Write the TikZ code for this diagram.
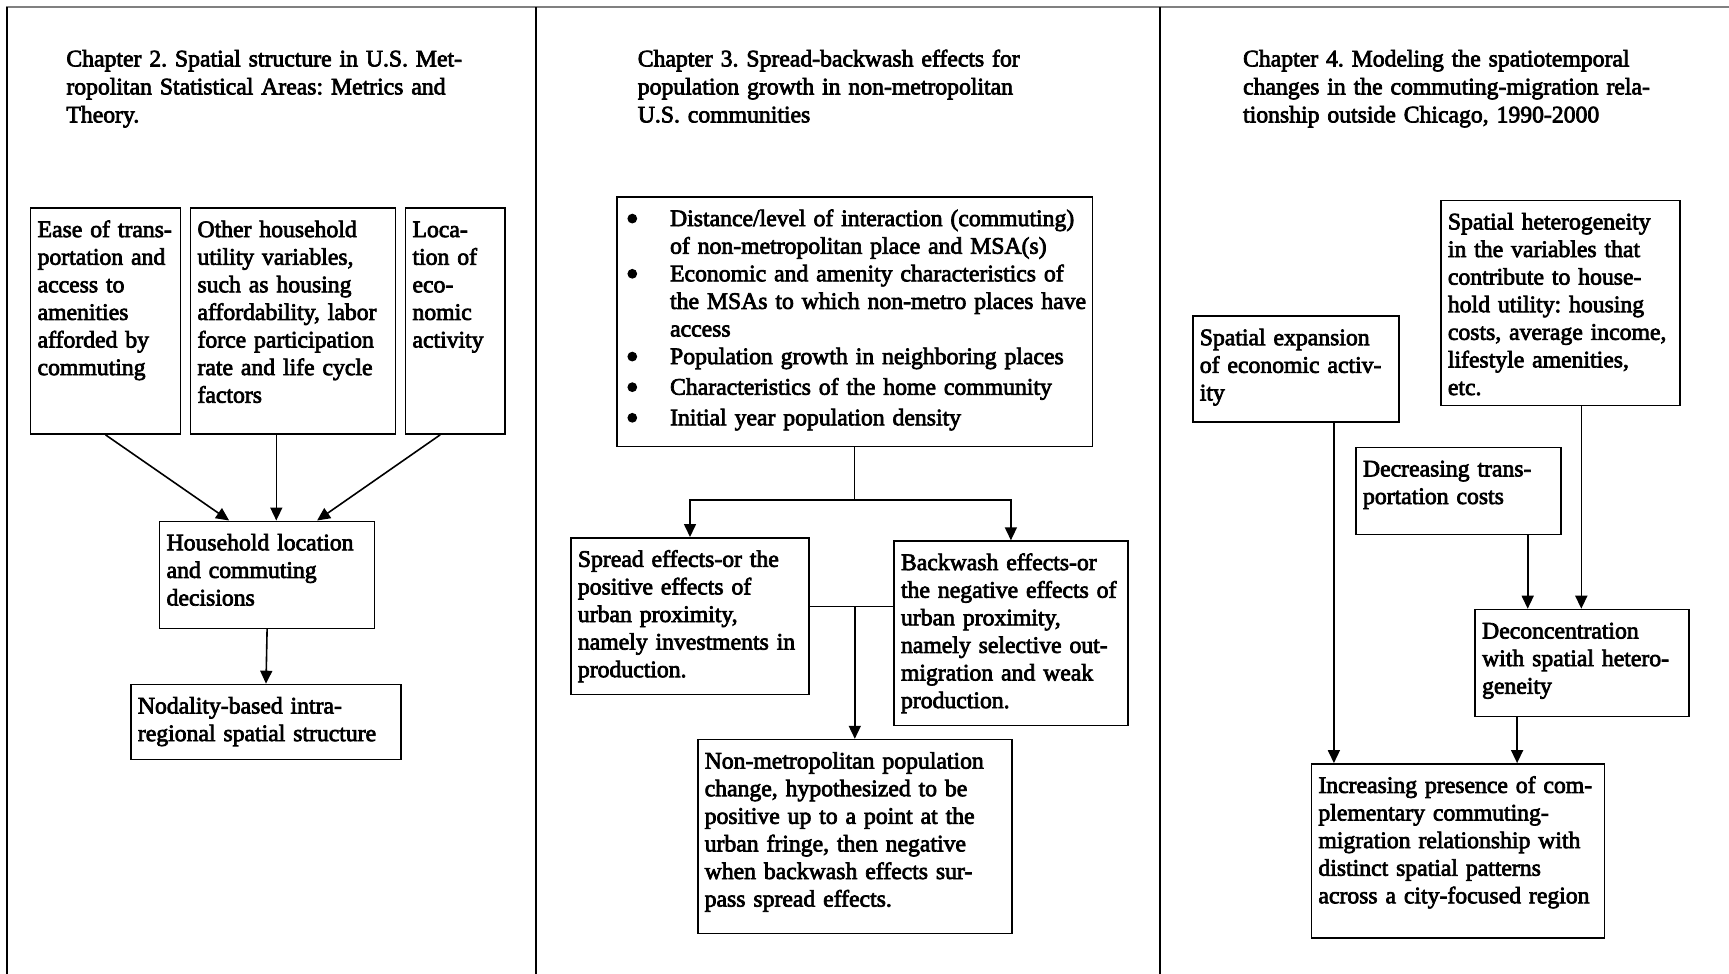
\documentclass[tikz,border=0pt]{standalone}
\usepackage{fontspec}
\setmainfont{Liberation Serif}[FakeBold=3]
\usepackage{array}
\usetikzlibrary{arrows.meta}

\newcommand{\chartfont}{\fontsize{11.85}{13.8}\selectfont\frenchspacing}
\newcommand{\headfont}{\fontsize{11.85}{14}\selectfont\frenchspacing}
\newcommand{\bigdot}{\raisebox{-2.2pt}[0pt][0pt]{\fontsize{18}{13.8}\selectfont\textbullet}}

\begin{document}
\begin{tikzpicture}[x=0.5pt, y=-0.5pt,
    box/.style={draw, line width=0.8pt, anchor=north west, align=left,
      inner sep=3.5pt, text height=11pt, font=\chartfont},
    heading/.style={anchor=north west, align=left, inner sep=0pt,
      text width=230pt, text height=9pt, font=\headfont},
    arr/.style={line width=0.8pt, -{Triangle[length=6.5pt, width=6pt]}},
    rule/.style={line width=1pt}]
  \useasboundingbox (0,0) rectangle (1729,974);

  \draw[rule, gray] (6,7.5) -- (1729,7.5);
  \foreach \x in {6.5, 535.5, 1160} \draw[rule] (\x, 7.5) -- (\x, 974);

  % chapter 2
  \node[heading] (ch2) at (66,48) {Chapter 2. Spatial structure in U.S. Met-\\ropolitan Statistical Areas: Metrics and\\Theory.};

  \node[box, text width=68pt, text depth=95pt] (ease) at (29.8,207.3)
    {Ease of trans-\\portation and\\access to\\amenities\\afforded by\\commuting};
  \node[box, text width=95.5pt, text depth=95pt] (utility) at (189.7,207.3)
    {Other household\\utility variables,\\such as housing\\affordability, labor\\force participation\\rate and life cycle\\factors};
  \node[box, text width=42.6pt, text depth=95pt] (econ) at (404.7,207.3)
    {Loca-\\tion of\\eco-\\nomic\\activity};
  \node[box, text width=100.5pt, text depth=35.5pt] (house) at (158.8,520.5)
    {Household location\\and commuting\\decisions};
  \node[box, text width=128.1pt, text depth=19.5pt] (nodal) at (130.1,683.7)
    {Nodality-based intra-\\regional spatial structure};

  \draw[arr] (ease.south) -- ([xshift=-19pt]house.north);
  \draw[arr] ([xshift=4.6pt]house.north |- utility.south) -- ([xshift=4.6pt]house.north);
  \draw[arr] ([xshift=-7.5pt]econ.south) -- ([xshift=25pt]house.north);
  \draw[arr] (house.south) -- (nodal.north);

  % chapter 3
  \node[heading] (ch3) at (637.4,48) {Chapter 3. Spread-backwash effects for\\population growth in non-metropolitan\\U.S. communities};

  \node[box, text width=230.6pt, text depth=106.6pt] (factors) at (616.4,196.3)
    {\begin{tabular}[t]{@{\hspace{0.9pt}}p{22.05pt}@{}>{\raggedright\arraybackslash}p{213pt}@{}}
      \bigdot & Distance/level of interaction (commuting)\newline of non-metropolitan place and MSA(s)\\[2pt]
      \bigdot & Economic and amenity characteristics of\newline the MSAs to which non-metro places have\newline access\\[2pt]
      \bigdot & Population growth in neighboring places\\[1.5pt]
      \bigdot & Characteristics of the home community\\[1.5pt]
      \bigdot & Initial year population density
    \end{tabular}};
  \node[box, text width=112.1pt, text depth=60.3pt] (spread) at (570.1,537)
    {Spread effects-or the\\positive effects of\\urban proximity,\\namely investments in\\production.};
  \node[box, text width=109.9pt, text depth=74.1pt] (backwash) at (893.2,540.3)
    {Backwash effects-or\\the negative effects of\\urban proximity,\\namely selective out-\\migration and weak\\production.};
  \node[box, text width=150.1pt, text depth=79pt] (nonmetro) at (696.9,738.8)
    {Non-metropolitan population\\change, hypothesized to be\\positive up to a point at the\\urban fringe, then negative\\when backwash effects sur-\\pass spread effects.};

  \draw (factors.south) -- ++(0,53) coordinate (fork);
  \draw[arr] (fork) -| (spread.north);
  \draw[arr] (fork) -| (backwash.north);
  \coordinate (link) at ([yshift=5pt]spread.east);
  \draw (link) -- (link -| backwash.west);
  \draw[arr] (link -| nonmetro.north) -- (nonmetro.north);

  % chapter 4
  \node[heading] (ch4) at (1242.7,48) {Chapter 4. Modeling the spatiotemporal\\changes in the commuting-migration rela-\\tionship outside Chicago, 1990-2000};

  \node[box, text width=112.6pt, text depth=84.5pt] (hetero) at (1440.1,199.6)
    {Spatial heterogeneity\\in the variables that\\contribute to house-\\hold utility: housing\\costs, average income,\\lifestyle amenities,\\etc.};
  \node[box, text width=96.1pt, text depth=34.9pt] (expand) at (1192,315.4)
    {Spatial expansion\\of economic activ-\\ity};
  \node[box, text width=95.5pt, text depth=25.5pt] (transport) at (1355.2,446.6)
    {Decreasing trans-\\portation costs};
  \node[box, text width=100pt, text depth=35.5pt] (deconc) at (1474.3,608.7)
    {Deconcentration\\with spatial hetero-\\geneity};
  \node[box, text width=139.5pt, text depth=69.1pt] (increase) at (1310.6,763.1)
    {Increasing presence of com-\\plementary commuting-\\migration relationship with\\distinct spatial patterns\\across a city-focused region};

  \draw[arr] ([xshift=19pt]expand.south) -- ([xshift=19pt]expand.south |- increase.north);
  \draw[arr] ([xshift=34.6pt]transport.south) -- ([xshift=34.6pt]transport.south |- deconc.north);
  \draw[arr] ([xshift=10.4pt]hetero.south) -- ([xshift=10.4pt]hetero.south |- deconc.north);
  \draw[arr] ([xshift=-32.5pt]deconc.south) -- ([xshift=-32.5pt]deconc.south |- increase.north);
\end{tikzpicture}
\end{document}
